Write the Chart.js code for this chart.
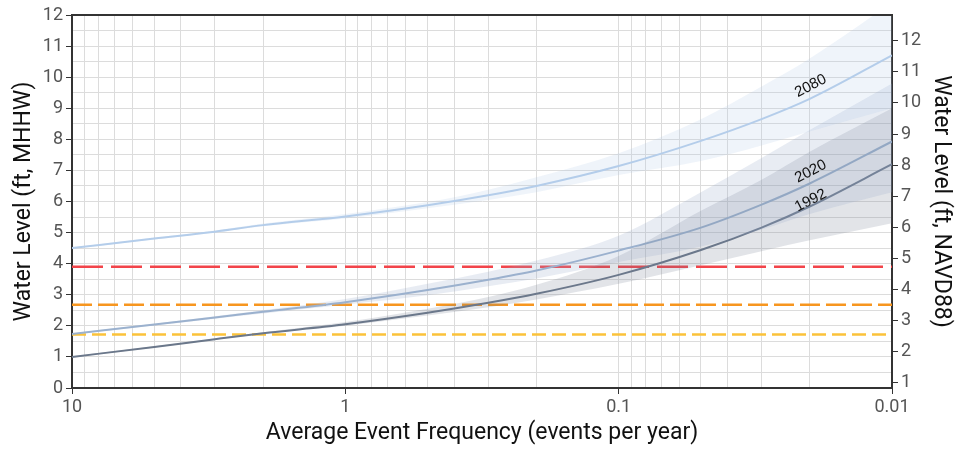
<!DOCTYPE html>
<html>
<head>
<meta charset="utf-8">
<script src="https://cdn.jsdelivr.net/npm/chart.js@4.4.1/dist/chart.umd.min.js"></script>
<style>
  html, body { margin: 0; padding: 0; background: #fff; }
  #wrap { width: 957px; height: 449px; }
</style>
</head>
<body>
<div id="wrap"><canvas id="chart" width="957" height="449"></canvas></div>
<script>
// Haeufigkeit (events per year) und Wasserstand (ft, MHHW)
var frequencies = [10, 5, 3, 2, 1, 0.5, 0.3, 0.2, 0.1, 0.05, 0.03, 0.02, 0.01];

var level1992 = [1.00, 1.32, 1.57, 1.76, 2.05, 2.42, 2.74, 3.03, 3.64, 4.44, 5.16, 5.84, 7.20];
var level2020 = [1.74, 2.04, 2.27, 2.45, 2.76, 3.15, 3.48, 3.78, 4.42, 5.16, 5.90, 6.58, 7.93];
var level2080 = [4.50, 4.81, 5.03, 5.24, 5.52, 5.88, 6.20, 6.50, 7.14, 7.95, 8.65, 9.30, 10.70];

// Unsicherheitsbereiche
var low1992 = [0.98, 1.30, 1.55, 1.74, 2.00, 2.33, 2.60, 2.85, 3.35, 3.95, 4.40, 4.75, 5.30];
var high1992 = [1.02, 1.34, 1.59, 1.79, 2.12, 2.55, 2.93, 3.32, 4.25, 5.70, 6.70, 7.60, 9.00];
var low2020 = [1.72, 2.01, 2.23, 2.40, 2.68, 2.98, 3.27, 3.52, 4.05, 4.55, 5.10, 5.60, 6.30];
var high2020 = [1.76, 2.07, 2.31, 2.50, 2.86, 3.35, 3.74, 4.10, 4.90, 6.30, 7.40, 8.30, 9.80];
var low2080 = [4.48, 4.78, 5.00, 5.20, 5.45, 5.78, 6.05, 6.30, 6.85, 7.30, 7.80, 8.25, 9.00];
var high2080 = [4.52, 4.84, 5.07, 5.29, 5.60, 5.98, 6.38, 6.78, 7.55, 8.65, 9.70, 10.60, 12.40];

// Schwellen (gestrichelt)
var thresholdLevels = [3.9, 2.68, 1.72];
var thresholdColors = ['#f2444a', '#f7961f', '#fbc23a'];
var thresholdDashes = [[31, 8], [20, 6], [14, 6]];

var xMajorTicks = [10, 1, 0.1, 0.01];
var yLeftTicks = [0, 1, 2, 3, 4, 5, 6, 7, 8, 9, 10, 11, 12];
var yRightTicks = [1, 2, 3, 4, 5, 6, 7, 8, 9, 10, 11, 12];
var navdOffset = 0.83;

function toPoints(values) {
    return frequencies.map(function(f, i) {
        return { x: f, y: values[i] };
    });
}

function band(lower, upper, color) {
    return [{
        data: toPoints(lower),
        borderWidth: 0,
        borderColor: 'rgba(0,0,0,0)',
        pointRadius: 0,
        fill: false,
        cubicInterpolationMode: 'monotone'
    }, {
        data: toPoints(upper),
        borderWidth: 0,
        borderColor: 'rgba(0,0,0,0)',
        backgroundColor: color,
        pointRadius: 0,
        fill: '-1',
        cubicInterpolationMode: 'monotone'
    }];
}

function curve(values, color) {
    return {
        data: toPoints(values),
        borderColor: color,
        borderWidth: 2,
        pointRadius: 0,
        fill: false,
        cubicInterpolationMode: 'monotone'
    };
}

var datasets = []
    .concat(band(low2080, high2080, 'rgba(175, 200, 230, 0.2)'))
    .concat(band(low2020, high2020, 'rgba(150, 170, 200, 0.22)'))
    .concat(band(low1992, high1992, 'rgba(110, 120, 140, 0.2)'));

datasets.push(curve(level2080, '#b6cfec'));
datasets.push(curve(level2020, '#9db4d0'));
datasets.push(curve(level1992, '#6b788b'));

thresholdLevels.forEach(function(level, i) {
    datasets.push({
        data: [{ x: xMajorTicks[0], y: level }, { x: xMajorTicks[xMajorTicks.length - 1], y: level }],
        borderColor: thresholdColors[i],
        borderWidth: 2.5,
        borderDash: thresholdDashes[i],
        pointRadius: 0,
        fill: false
    });
});

// alle Gitterlinien fuer die log-Achse
var xGridValues = [];
for (var d = 0; d < xMajorTicks.length - 1; d++) {
    var low = xMajorTicks[d + 1];
    for (var m = 1; m <= 9; m++) {
        xGridValues.push(+(m * low).toPrecision(3));
    }
}
xGridValues.push(xMajorTicks[0]);

var yGridValues = [];
for (var v = 0; v <= 24; v++) yGridValues.push(v / 2);

var curveLabels = [
    { text: '2080', values: level2080, dy: -13 },
    { text: '2020', values: level2020, dy: -12 },
    { text: '1992', values: level1992, dy: -6 }
];

var labelPlugin = {
    id: 'curveLabels',
    afterDatasetsDraw: function(chart) {
        var ctx = chart.ctx;
        var xs = chart.scales.x, ys = chart.scales.y;
        var idx = frequencies.indexOf(0.02);
        ctx.save();
        curveLabels.forEach(function(l) {
            var px = xs.getPixelForValue(frequencies[idx]) + 1;
            var py = ys.getPixelForValue(l.values[idx]) + l.dy;
            ctx.save();
            ctx.translate(px, py);
            ctx.rotate(-27 * Math.PI / 180);
            ctx.font = '15px "Liberation Sans", Arial, sans-serif';
            ctx.fillStyle = '#111';
            ctx.textAlign = 'center';
            ctx.textBaseline = 'middle';
            ctx.fillText(l.text, 0, 0);
            ctx.restore();
        });
        // obere Rahmenlinie
        var a = chart.chartArea;
        ctx.strokeStyle = '#333';
        ctx.lineWidth = 2;
        ctx.beginPath();
        ctx.moveTo(a.left - 1, a.top);
        ctx.lineTo(a.right + 1, a.top);
        ctx.stroke();
        ctx.restore();
    }
};

var tickFont = { family: 'Roboto', size: 18 };
var titleFont = { family: 'Roboto', size: 23 };

var ctx = document.getElementById('chart').getContext('2d');
var chart = new Chart(ctx, {
    type: 'line',
    data: { datasets: datasets },
    options: {
        responsive: false,
        animation: false,
        layout: { padding: { top: 15, left: 0, right: 0, bottom: 0 } },
        plugins: {
            legend: { display: false },
            tooltip: { enabled: false }
        },
        scales: {
            x: {
                type: 'logarithmic',
                reverse: true,
                min: 0.01,
                max: 10,
                afterBuildTicks: function(scale) {
                    scale.ticks = xGridValues.map(function(v) { return { value: v }; });
                },
                afterFit: function(scale) { scale.height = 61; },
                ticks: {
                    autoSkip: false,
                    maxRotation: 0,
                    padding: 3,
                    color: '#555',
                    font: tickFont,
                    callback: function(value) {
                        return xMajorTicks.indexOf(value) >= 0 ? String(value) : '';
                    }
                },
                grid: {
                    color: '#dcdcdc',
                    lineWidth: 1,
                    tickLength: 6,
                    tickColor: function(c) {
                        return c.tick && xMajorTicks.indexOf(c.tick.value) >= 0 ? '#333' : 'rgba(0,0,0,0)';
                    }
                },
                border: { color: '#333', width: 2 },
                title: {
                    display: true,
                    text: 'Average Event Frequency (events per year)',
                    color: '#111',
                    font: titleFont,
                    padding: { top: 0, bottom: 2 }
                }
            },
            y: {
                type: 'linear',
                position: 'left',
                min: 0,
                max: 12,
                afterBuildTicks: function(scale) {
                    scale.ticks = yGridValues.map(function(v) { return { value: v }; });
                },
                afterFit: function(scale) { scale.width = 72; },
                ticks: {
                    autoSkip: false,
                    padding: 3,
                    color: '#555',
                    font: tickFont,
                    callback: function(value) {
                        return yLeftTicks.indexOf(value) >= 0 ? String(value) : '';
                    }
                },
                grid: {
                    color: '#dcdcdc',
                    lineWidth: 1,
                    tickLength: 6,
                    tickColor: function(c) {
                        return c.tick && yLeftTicks.indexOf(c.tick.value) >= 0 ? '#333' : 'rgba(0,0,0,0)';
                    }
                },
                border: { color: '#333', width: 2 },
                title: {
                    display: true,
                    text: 'Water Level (ft, MHHW)',
                    color: '#111',
                    font: titleFont,
                    padding: { top: 10, bottom: 0 }
                }
            },
            y2: {
                type: 'linear',
                position: 'right',
                min: navdOffset,
                max: 12 + navdOffset,
                afterBuildTicks: function(scale) {
                    scale.ticks = yRightTicks.map(function(v) { return { value: v }; });
                },
                afterFit: function(scale) { scale.width = 65; },
                ticks: {
                    autoSkip: false,
                    padding: 3,
                    color: '#555',
                    font: tickFont
                },
                grid: {
                    drawOnChartArea: false,
                    tickLength: 6,
                    tickColor: '#333'
                },
                border: { color: '#333', width: 2 },
                title: {
                    display: true,
                    text: 'Water Level (ft, NAVD88)',
                    color: '#111',
                    font: titleFont,
                    padding: { top: 2, bottom: 0 }
                }
            }
        }
    },
    plugins: [labelPlugin]
});
</script>
</body>
</html>
